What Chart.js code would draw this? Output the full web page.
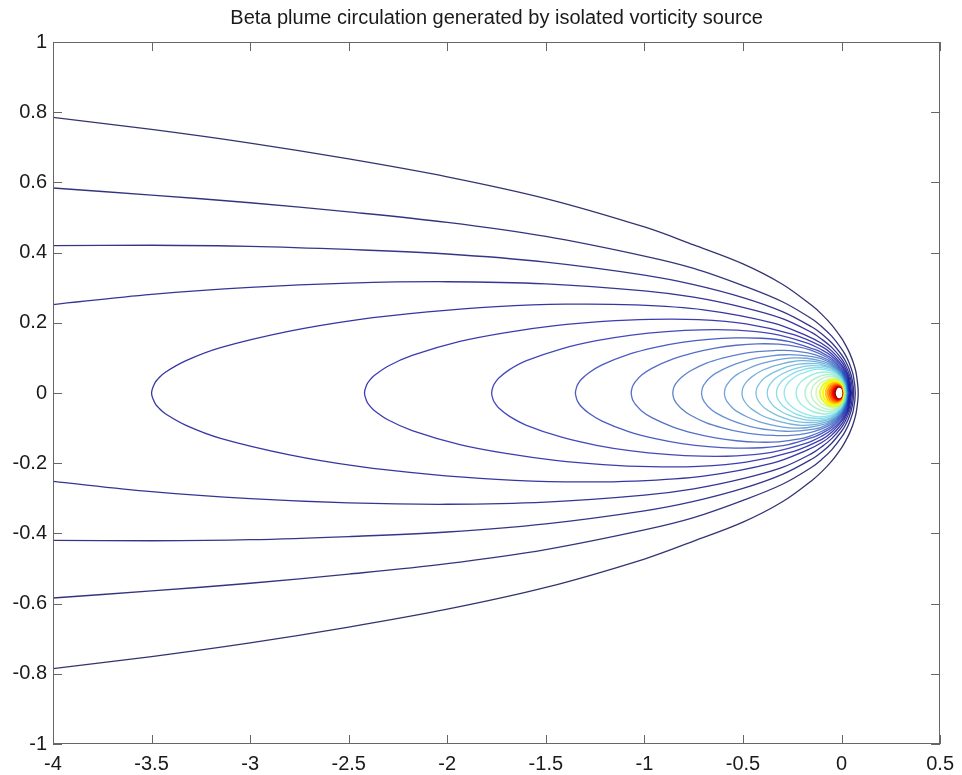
<!DOCTYPE html>
<html><head><meta charset="utf-8">
<script src="https://cdn.jsdelivr.net/npm/chart.js@4.4.1/dist/chart.umd.min.js"></script>
<style>html,body{margin:0;padding:0;background:#fff;} canvas{display:block;}</style>
</head><body>
<canvas id="c" width="962" height="775"></canvas>
<script>
const chartTitle = 'Beta plume circulation generated by isolated vorticity source';
const xTickValues = [-4, -3.5, -3, -2.5, -2, -1.5, -1, -0.5, 0, 0.5];
const xTickLabels = ['-4', '-3.5', '-3', '-2.5', '-2', '-1.5', '-1', '-0.5', '0', '0.5'];
const yTickValues = [-1, -0.8, -0.6, -0.4, -0.2, 0, 0.2, 0.4, 0.6, 0.8, 1];
const yTickLabels = ['-1', '-0.8', '-0.6', '-0.4', '-0.2', '0', '0.2', '0.4', '0.6', '0.8', '1'];

// contour level index of each drawn curve (1 = lowest), out of levelCount levels
const contourLevels = [1,2,3,4,5,6,7,8,9,10,11,12,13,14,15,16,17,19,21,23,25,27,29,31,33,35,37,39,41,43,45];
const levelCount = 45;
// levels whose curves run out through the western edge (x = -4)
const openLevels = [1, 2, 3, 4];

// upper branches [x, y], west -> east nose (field is symmetric about y = 0)
const level01 = [[-4,0.785],[-3.5,0.751],[-3,0.712],[-2.5,0.667],[-2,0.616],[-1.5,0.554],[-1,0.473],[-0.75,0.422],[-0.5,0.368],[-0.3,0.31],[-0.15,0.249],[-0.1,0.224],[-0.05,0.194],[0,0.156],[0.02,0.137],[0.04,0.115],[0.06,0.086],[0.075,0.054],[0.0846,0]];
const level02 = [[-4,0.584],[-3.5,0.564],[-3,0.542],[-2.5,0.516],[-2,0.486],[-1.5,0.446],[-1,0.39],[-0.75,0.355],[-0.5,0.306],[-0.3,0.26],[-0.15,0.211],[-0.1,0.189],[-0.05,0.162],[0,0.126],[0.02,0.108],[0.04,0.084],[0.06,0.049],[0.0697,0]];
const level03 = [[-4,0.42],[-3.5,0.421],[-3,0.418],[-2.5,0.409],[-2,0.396],[-1.5,0.373],[-1,0.336],[-0.75,0.309],[-0.5,0.272],[-0.3,0.232],[-0.15,0.188],[-0.1,0.168],[-0.05,0.143],[0,0.109],[0.02,0.091],[0.04,0.066],[0.055,0.036],[0.0612,0]];
const level04 = [[-4,0.252],[-3.5,0.281],[-3,0.301],[-2.5,0.313],[-2,0.317],[-1.5,0.311],[-1,0.291],[-0.75,0.273],[-0.5,0.244],[-0.3,0.212],[-0.15,0.172],[-0.1,0.153],[-0.05,0.13],[0,0.098],[0.02,0.079],[0.04,0.053],[0.05,0.031],[0.0552,0]];
const level05 = [[-3.5,0],[-3.4825,0.0294],[-3.465,0.0416],[-3.43,0.059],[-3.325,0.092],[-3.15,0.129],[-2.8,0.176],[-2.45,0.209],[-2.1,0.231],[-1.75,0.246],[-1.4,0.253],[-1.05,0.251],[-0.7,0.237],[-0.35,0.2],[-0.175,0.163],[-0.1,0.141],[-0.05,0.12],[0,0.089],[0.02,0.07],[0.04,0.042],[0.0505,0]];
const level06 = [[-2.42,0],[-2.408,0.0245],[-2.396,0.0346],[-2.372,0.049],[-2.299,0.077],[-2.178,0.107],[-1.936,0.147],[-1.694,0.173],[-1.452,0.192],[-1.21,0.204],[-0.968,0.21],[-0.726,0.209],[-0.484,0.197],[-0.242,0.166],[-0.1,0.132],[-0.05,0.112],[0,0.081],[0.02,0.063],[0.035,0.043],[0.0468,0]];
const level07 = [[-1.775,0],[-1.766,0.021],[-1.757,0.0296],[-1.74,0.042],[-1.686,0.066],[-1.598,0.092],[-1.42,0.126],[-1.243,0.149],[-1.065,0.165],[-0.888,0.175],[-0.71,0.18],[-0.533,0.179],[-0.355,0.169],[-0.178,0.143],[-0.1,0.123],[-0.05,0.105],[0,0.076],[0.02,0.057],[0.033,0.04],[0.0437,0]];
const level08 = [[-1.35,0],[-1.343,0.0183],[-1.3365,0.0258],[-1.323,0.037],[-1.283,0.057],[-1.215,0.08],[-1.08,0.11],[-0.945,0.13],[-0.81,0.144],[-0.675,0.153],[-0.54,0.157],[-0.405,0.156],[-0.27,0.147],[-0.135,0.124],[-0.1,0.115],[-0.05,0.098],[0,0.07],[0.02,0.052],[0.03,0.038],[0.041,0]];
const level09 = [[-1.067,0],[-1.0617,0.0162],[-1.0563,0.023],[-1.046,0.032],[-1.014,0.051],[-0.96,0.071],[-0.854,0.097],[-0.747,0.115],[-0.64,0.128],[-0.534,0.136],[-0.427,0.14],[-0.32,0.139],[-0.213,0.131],[-0.16,0.123],[-0.1,0.109],[-0.05,0.093],[0,0.066],[0.02,0.047],[0.03,0.033],[0.0388,0]];
const level10 = [[-0.856,0],[-0.8517,0.0141],[-0.8474,0.02],[-0.839,0.028],[-0.813,0.044],[-0.77,0.062],[-0.685,0.085],[-0.599,0.1],[-0.514,0.111],[-0.428,0.118],[-0.342,0.121],[-0.257,0.121],[-0.171,0.114],[-0.1,0.102],[-0.05,0.088],[0,0.062],[0.02,0.043],[0.03,0.028],[0.0366,0]];
const level11 = [[-0.71,0],[-0.7065,0.0127],[-0.7029,0.018],[-0.696,0.025],[-0.675,0.04],[-0.639,0.056],[-0.568,0.076],[-0.497,0.09],[-0.426,0.1],[-0.355,0.106],[-0.284,0.109],[-0.213,0.108],[-0.142,0.103],[-0.1,0.097],[-0.05,0.083],[0,0.059],[0.02,0.04],[0.029,0.025],[0.0348,0]];
const level12 = [[-0.594,0],[-0.591,0.0116],[-0.588,0.0164],[-0.582,0.023],[-0.564,0.036],[-0.535,0.051],[-0.475,0.069],[-0.416,0.082],[-0.356,0.091],[-0.297,0.097],[-0.238,0.1],[-0.178,0.099],[-0.1,0.091],[-0.05,0.079],[0,0.056],[0.02,0.036],[0.028,0.023],[0.0332,0]];
const level13 = [[-0.505,0],[-0.5025,0.0106],[-0.5,0.015],[-0.495,0.021],[-0.48,0.033],[-0.455,0.046],[-0.404,0.064],[-0.354,0.075],[-0.303,0.083],[-0.253,0.089],[-0.202,0.092],[-0.152,0.091],[-0.1,0.086],[-0.05,0.076],[0,0.053],[0.02,0.033],[0.027,0.021],[0.0316,0]];
const level14 = [[-0.434,0],[-0.4318,0.0097],[-0.4297,0.0138],[-0.425,0.0195],[-0.412,0.0305],[-0.391,0.0425],[-0.347,0.058],[-0.304,0.069],[-0.26,0.077],[-0.217,0.082],[-0.174,0.084],[-0.13,0.0835],[-0.1,0.081],[-0.05,0.072],[0,0.05],[0.02,0.031],[0.026,0.02],[0.0302,0]];
const level15 = [[-0.377,0],[-0.3751,0.0091],[-0.3732,0.0129],[-0.3695,0.018],[-0.358,0.028],[-0.339,0.04],[-0.302,0.054],[-0.264,0.064],[-0.226,0.071],[-0.189,0.076],[-0.151,0.078],[-0.1,0.0765],[-0.05,0.069],[0,0.048],[0.02,0.028],[0.025,0.019],[0.0289,0]];
const level16 = [[-0.33,0],[-0.3284,0.0084],[-0.3267,0.0119],[-0.3234,0.017],[-0.3135,0.026],[-0.297,0.037],[-0.264,0.05],[-0.231,0.06],[-0.198,0.066],[-0.165,0.0705],[-0.132,0.072],[-0.1,0.072],[-0.05,0.0655],[0,0.045],[0.02,0.0255],[0.024,0.018],[0.0277,0]];
const level17 = [[-0.291,0],[-0.2895,0.0078],[-0.2881,0.0111],[-0.2852,0.0155],[-0.2765,0.0245],[-0.262,0.034],[-0.233,0.047],[-0.204,0.055],[-0.175,0.061],[-0.1455,0.066],[-0.1,0.0676],[-0.05,0.0625],[0,0.0433],[0.02,0.023],[0.023,0.017],[0.0266,0]];
const level19 = [[-0.23,0],[-0.228,0.01],[-0.22,0.021],[-0.2,0.035],[-0.15,0.052],[-0.1,0.059],[-0.05,0.057],[0,0.04],[0.015,0.026],[0.0246,0]];
const level21 = [[-0.185,0],[-0.183,0.01],[-0.175,0.02],[-0.15,0.036],[-0.1,0.05],[-0.05,0.052],[0,0.037],[0.013,0.025],[0.0228,0]];
const level23 = [[-0.154,0],[-0.151,0.011],[-0.14,0.023],[-0.1,0.041],[-0.06,0.047],[-0.03,0.045],[0,0.034],[0.012,0.024],[0.0211,0]];
const level25 = [[-0.129,0],[-0.127,0.009],[-0.12,0.018],[-0.1,0.031],[-0.05,0.042],[-0.02,0.039],[0,0.031],[0.01,0.023],[0.0199,0]];
const level27 = [[-0.1095,0],[-0.1,0.018],[-0.07,0.034],[-0.04,0.038],[-0.015,0.035],[0,0.029],[0.01,0.021],[0.0186,0]];
const level29 = [[-0.094,0],[-0.085,0.018],[-0.06,0.031],[-0.033,0.0345],[-0.012,0.032],[0,0.027],[0.009,0.02],[0.0175,0]];
const level31 = [[-0.0803,0],[-0.07,0.0185],[-0.05,0.028],[-0.025,0.031],[0,0.025],[0.008,0.019],[0.0164,0]];
const level33 = [[-0.07,0],[-0.06,0.018],[-0.04,0.0265],[-0.02,0.028],[0,0.023],[0.0075,0.0178],[0.0154,0]];
const level35 = [[-0.0617,0],[-0.05,0.018],[-0.03,0.0254],[-0.012,0.0256],[0,0.0216],[0.007,0.0166],[0.0144,0]];
const level37 = [[-0.054,0],[-0.045,0.016],[-0.028,0.0233],[-0.011,0.0237],[0,0.0202],[0.0065,0.0156],[0.0136,0]];
const level39 = [[-0.0475,0],[-0.04,0.014],[-0.025,0.0213],[-0.01,0.0219],[0,0.0188],[0.006,0.0147],[0.0129,0]];
const level41 = [[-0.0425,0],[-0.035,0.0138],[-0.02,0.0203],[-0.008,0.0203],[0,0.0176],[0.0055,0.014],[0.0121,0]];
const level43 = [[-0.0378,0],[-0.03,0.0136],[-0.015,0.0189],[0,0.0165],[0.005,0.0133],[0.0114,0]];
const level45 = [[-0.0343,0],[-0.027,0.013],[-0.013,0.018],[0,0.0156],[0.005,0.0125],[0.011,0]];

const upperBranches = [level01,level02,level03,level04,level05,level06,level07,level08,level09,level10,level11,level12,level13,level14,level15,level16,level17,level19,level21,level23,level25,level27,level29,level31,level33,level35,level37,level39,level41,level43,level45];

// jet colour map (style); thin far-field lines are shown softened like the original print
function jetRGB(f) {
  const c = v => 255 * Math.max(0, Math.min(1, v));
  return [c(1.5 - Math.abs(4 * f - 3)), c(1.5 - Math.abs(4 * f - 2)), c(1.5 - Math.abs(4 * f - 1))];
}
function lineColor(lvl) {
  const [r, g, b] = jetRGB((lvl - 1) / (levelCount - 1));
  if (lvl > 25) return `rgb(${Math.round(r)},${Math.round(g)},${Math.round(b)})`;
  const lum = 0.3 * r + 0.59 * g + 0.11 * b;
  const k = 0.6;
  const m = v => Math.round(v * k + lum * (1 - k));
  const alpha = lvl <= 5 ? 0.82 : Math.max(0.6, 0.82 - (lvl - 5) * 0.02);
  return `rgba(${m(r)},${m(g)},${m(b)},${alpha.toFixed(2)})`;
}

const datasets = contourLevels.map((lvl, i) => {
  const up = upperBranches[i].map(([x, y]) => ({ x: x, y: y }));
  const low = upperBranches[i].map(([x, y]) => ({ x: x, y: -y }));
  let pts;
  if (openLevels.includes(lvl)) {
    pts = up.concat(low.slice(0, -1).reverse());
  } else {
    pts = up.slice().reverse().concat(low.slice(1));
  }
  return {
    data: pts,
    showLine: true,
    borderColor: lineColor(lvl),
    borderWidth: lvl <= 17 ? 1.3 : (lvl <= 25 ? 1.5 : 1.9),
    pointRadius: 0,
    pointHoverRadius: 0,
    fill: false,
    tension: 0.35,
    borderJoinStyle: 'round'
  };
});

const fontFamily = "'Liberation Sans', Arial, Helvetica, sans-serif";

const framePlugin = {
  id: 'frame',
  afterDraw(chart) {
    const { ctx, chartArea: a, scales } = chart;
    const xs = scales.x, ys = scales.y;
    ctx.save();
    ctx.strokeStyle = '#666';
    ctx.lineWidth = 1;
    ctx.strokeRect(Math.round(a.left) + 0.5, Math.round(a.top) + 0.5, Math.round(a.right - a.left) - 1, Math.round(a.bottom - a.top) - 1);
    ctx.beginPath();
    const tl = 9;
    xTickValues.forEach(v => {
      const p = Math.round(xs.getPixelForValue(v)) + 0.5;
      ctx.moveTo(p, a.bottom); ctx.lineTo(p, a.bottom - tl);
      ctx.moveTo(p, a.top); ctx.lineTo(p, a.top + tl);
    });
    yTickValues.forEach(v => {
      const p = Math.round(ys.getPixelForValue(v)) + 0.5;
      ctx.moveTo(a.left, p); ctx.lineTo(a.left + tl, p);
      ctx.moveTo(a.right, p); ctx.lineTo(a.right - tl, p);
    });
    ctx.stroke();
    ctx.restore();
  }
};

new Chart(document.getElementById('c').getContext('2d'), {
  type: 'scatter',
  data: { datasets: datasets },
  options: {
    responsive: false,
    animation: false,
    devicePixelRatio: 1,
    layout: { padding: { left: 0, right: 19, top: 0, bottom: 0 } },
    plugins: {
      legend: { display: false },
      tooltip: { enabled: false },
      title: {
        display: true,
        text: chartTitle,
        fullSize: false,
        color: '#1a1a1a',
        font: { family: fontFamily, size: 20, weight: 'normal' },
        padding: { top: 6, bottom: 12 }
      }
    },
    scales: {
      x: {
        type: 'linear',
        min: -4, max: 0.5,
        afterBuildTicks: s => { s.ticks = xTickValues.map(v => ({ value: v })); },
        afterFit: s => { s.height = 31; },
        ticks: {
          callback: (v, i) => xTickLabels[i],
          autoSkip: false, maxRotation: 0, minRotation: 0,
          padding: 8,
          color: '#1a1a1a',
          font: { family: fontFamily, size: 20 }
        },
        grid: { display: false, drawTicks: false },
        border: { display: false }
      },
      y: {
        type: 'linear',
        min: -1, max: 1,
        afterBuildTicks: s => { s.ticks = yTickValues.map(v => ({ value: v })); },
        afterFit: s => { s.width = 53; },
        ticks: {
          callback: (v, i) => yTickLabels[i],
          autoSkip: false,
          padding: 6,
          color: '#1a1a1a',
          font: { family: fontFamily, size: 20 }
        },
        grid: { display: false, drawTicks: false },
        border: { display: false }
      }
    }
  },
  plugins: [framePlugin]
});
</script>
</body></html>
